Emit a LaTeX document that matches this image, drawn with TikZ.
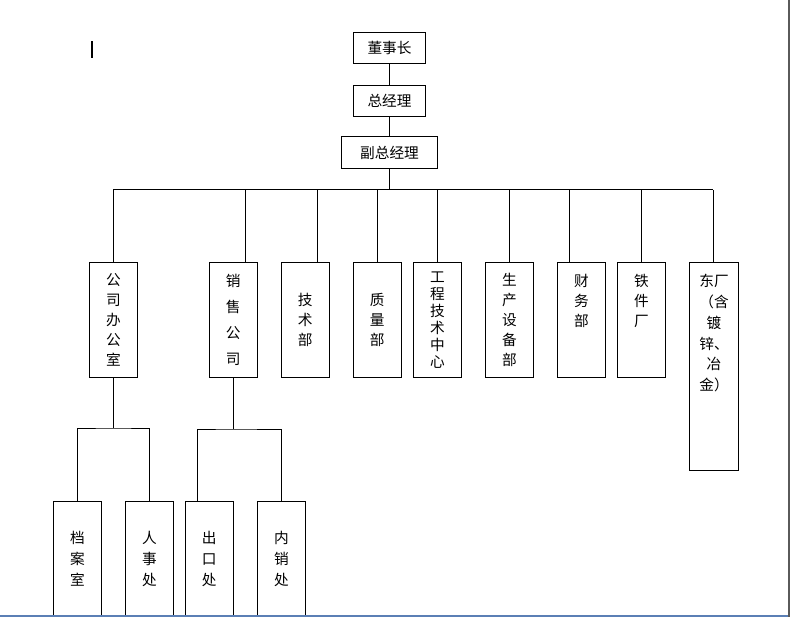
\documentclass[tikz,border=0pt]{standalone}
\usepackage{fontspec}
\newfontfamily\cjk{Noto Sans CJK SC}
\usetikzlibrary{positioning}
\definecolor{edgegray}{RGB}{90,90,90}
\definecolor{edgeblue}{RGB}{91,127,181}

\begin{document}
\begin{tikzpicture}[x=0.75pt, y=-0.75pt,
    box/.style={draw, line width=0.8pt, minimum width=54pt, minimum height=23.25pt,
      inner sep=0pt, font=\cjk\fontsize{11pt}{15pt}\selectfont},
    dept/.style={draw, line width=0.8pt, minimum width=36pt, minimum height=86.25pt,
      anchor=north, inner sep=0pt, align=center, font=\cjk\fontsize{11pt}{15pt}\selectfont},
    vtxt/.style={inner sep=0pt, anchor=north, align=center,
      font=\cjk\fontsize{11pt}{15pt}\selectfont},
    link/.style={line width=0.75pt}]
  \useasboundingbox (0,0) rectangle (790,617);

  % top of the chart
  \node[box] (dsz) at (389.5,48) {董事长};
  \node[box] (zjl) at (389.5,100.8) {总经理};
  \node[box, minimum width=72pt, minimum height=24pt] (fzjl) at (389.5,152.5) {副总经理};

  % departments
  \node[dept] (gs) at (113.5,262) {公\\司\\办\\公\\室};
  \node[dept, font=\cjk\fontsize{11pt}{19.5pt}\selectfont] (xs) at (233.3,262) {销\\售\\公\\司};
  \node[dept] (js) at (305.3,262) {技\\术\\部};
  \node[dept] (zl) at (377.3,262) {质\\量\\部};
  \node[dept, font=\cjk\fontsize{11pt}{12.75pt}\selectfont] (gc) at (437.5,262) {工\\程\\技\\术\\中\\心};
  \node[dept] (sc) at (509.5,262) {生\\产\\设\\备\\部};
  \node[dept] (cw) at (581.5,262) {};
  \node[vtxt] (cwt) at ([yshift=-9pt]cw.north) {财\\务\\部};
  \node[dept] (tj) at (641.5,262) {};
  \node[vtxt] (tjt) at ([yshift=-9pt]tj.north) {铁\\件\\厂};
  \node[dept, minimum width=37pt, minimum height=156pt] (df) at (714,262) {};
  \node[vtxt, font=\cjk\fontsize{11pt}{15.6pt}\selectfont] (dft) at ([yshift=-9pt]df.north)
    {东厂\\（含\\镀\\锌、\\冶\\金）};

  % sections
  \node[dept, font=\cjk\fontsize{11pt}{15.75pt}\selectfont] (da) at (77.5,501) {档\\案\\室};
  \node[dept, font=\cjk\fontsize{11pt}{15.75pt}\selectfont] (rs) at (149.5,501) {人\\事\\处};
  \node[dept, font=\cjk\fontsize{11pt}{15.75pt}\selectfont] (ck) at (209.3,501) {出\\口\\处};
  \node[dept, font=\cjk\fontsize{11pt}{15.75pt}\selectfont] (nx) at (281.5,501) {内\\销\\处};

  % links
  \draw[link] (dsz) -- (zjl);
  \draw[link] (zjl) -- (fzjl);
  \coordinate (bus) at (389.5,190);
  \coordinate (bl) at (113,190);
  \coordinate (br) at (713,190);
  \draw[link] (fzjl) -- (bus);
  \draw[link] (bl) -- (br);
  \foreach \x/\n in {113/gs, 245/xs, 317/js, 377/zl, 437/gc, 509/sc, 569/cw, 641/tj, 713/df} {
    \coordinate (d\n) at (\x,190);
    \draw[link] (d\n) -- (d\n |- \n.north);
  }

  \coordinate (gsj) at (113.5,428);
  \draw[link] (gs.south) -- (gsj);
  \draw[link] (da.north) |- (gsj) -| (rs.north);
  \coordinate (xsj) at (233.3,429);
  \draw[link] (xs.south) -- (xsj);
  \draw[link] ([xshift=-9pt]ck.north) |- (xsj) -| (nx.north);

  % page edges and caret
  \fill[edgegray] (788,0) rectangle (790,617);
  \fill[edgeblue] (0,615) rectangle (788,617);
  \fill (91,41) rectangle (93,58);
\end{tikzpicture}
\end{document}
